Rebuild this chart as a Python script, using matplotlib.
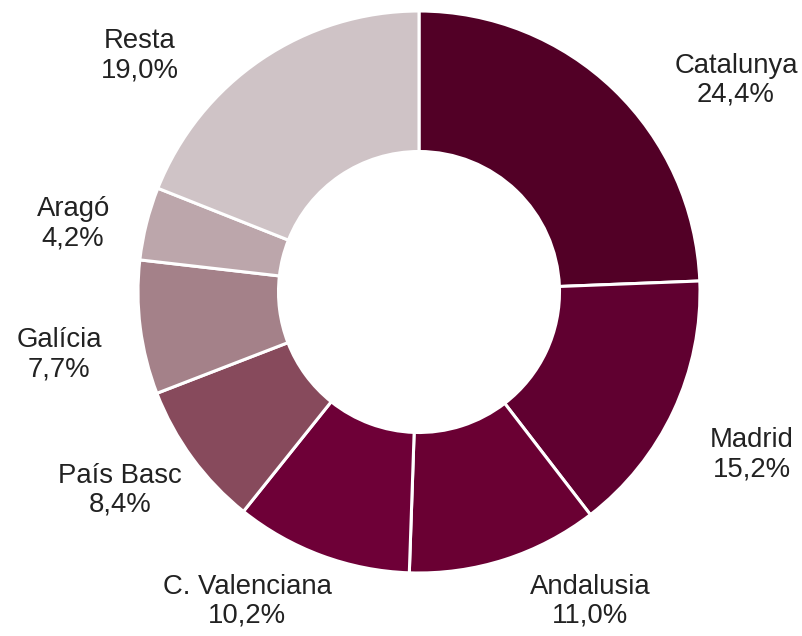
import matplotlib.pyplot as plt

plt.rcParams['font.family'] = ['Liberation Sans', 'DejaVu Sans']

regions = ['Catalunya', 'Madrid', 'Andalusia', 'C. Valenciana', 'País Basc',
           'Galícia', 'Aragó', 'Resta']
shares = [24.4, 15.2, 11.0, 10.2, 8.4, 7.7, 4.2, 19.0]
colors = ['#520026', '#600030', '#6a0033', '#6e0037', '#874a5c',
          '#a48189', '#bca6ab', '#cfc3c6']
# label centres, in units of the outer radius
label_pos = [(1.128, 0.754), (1.185, -0.580), (0.609, -1.100), (-0.612, -1.100),
             (-1.064, -0.705), (-1.28, -0.224), (-1.231, 0.242), (-0.993, 0.840)]

W, H = 802, 636
cx, cy, R = 419, 292, 281

fig = plt.figure(figsize=(W / 100, H / 100), dpi=100)
ax = fig.add_axes([(cx - R) / W, (H - cy - R) / H, 2 * R / W, 2 * R / H])

ax.pie(shares, colors=colors, startangle=90, counterclock=False, radius=1,
       wedgeprops=dict(width=0.5, edgecolor='white', linewidth=2.2))
ax.set_xlim(-1, 1)
ax.set_ylim(-1, 1)
ax.set_aspect('equal')
ax.axis('off')

for name, val, (x, y) in zip(regions, shares, label_pos):
    txt = '{}\n{}%'.format(name, ('%.1f' % val).replace('.', ','))
    ax.text(x, y, txt, ha='center', va='center', multialignment='center',
            fontsize=19.8, color='#222222', linespacing=1.15, clip_on=False)

fig.savefig('out.png', dpi=100)
